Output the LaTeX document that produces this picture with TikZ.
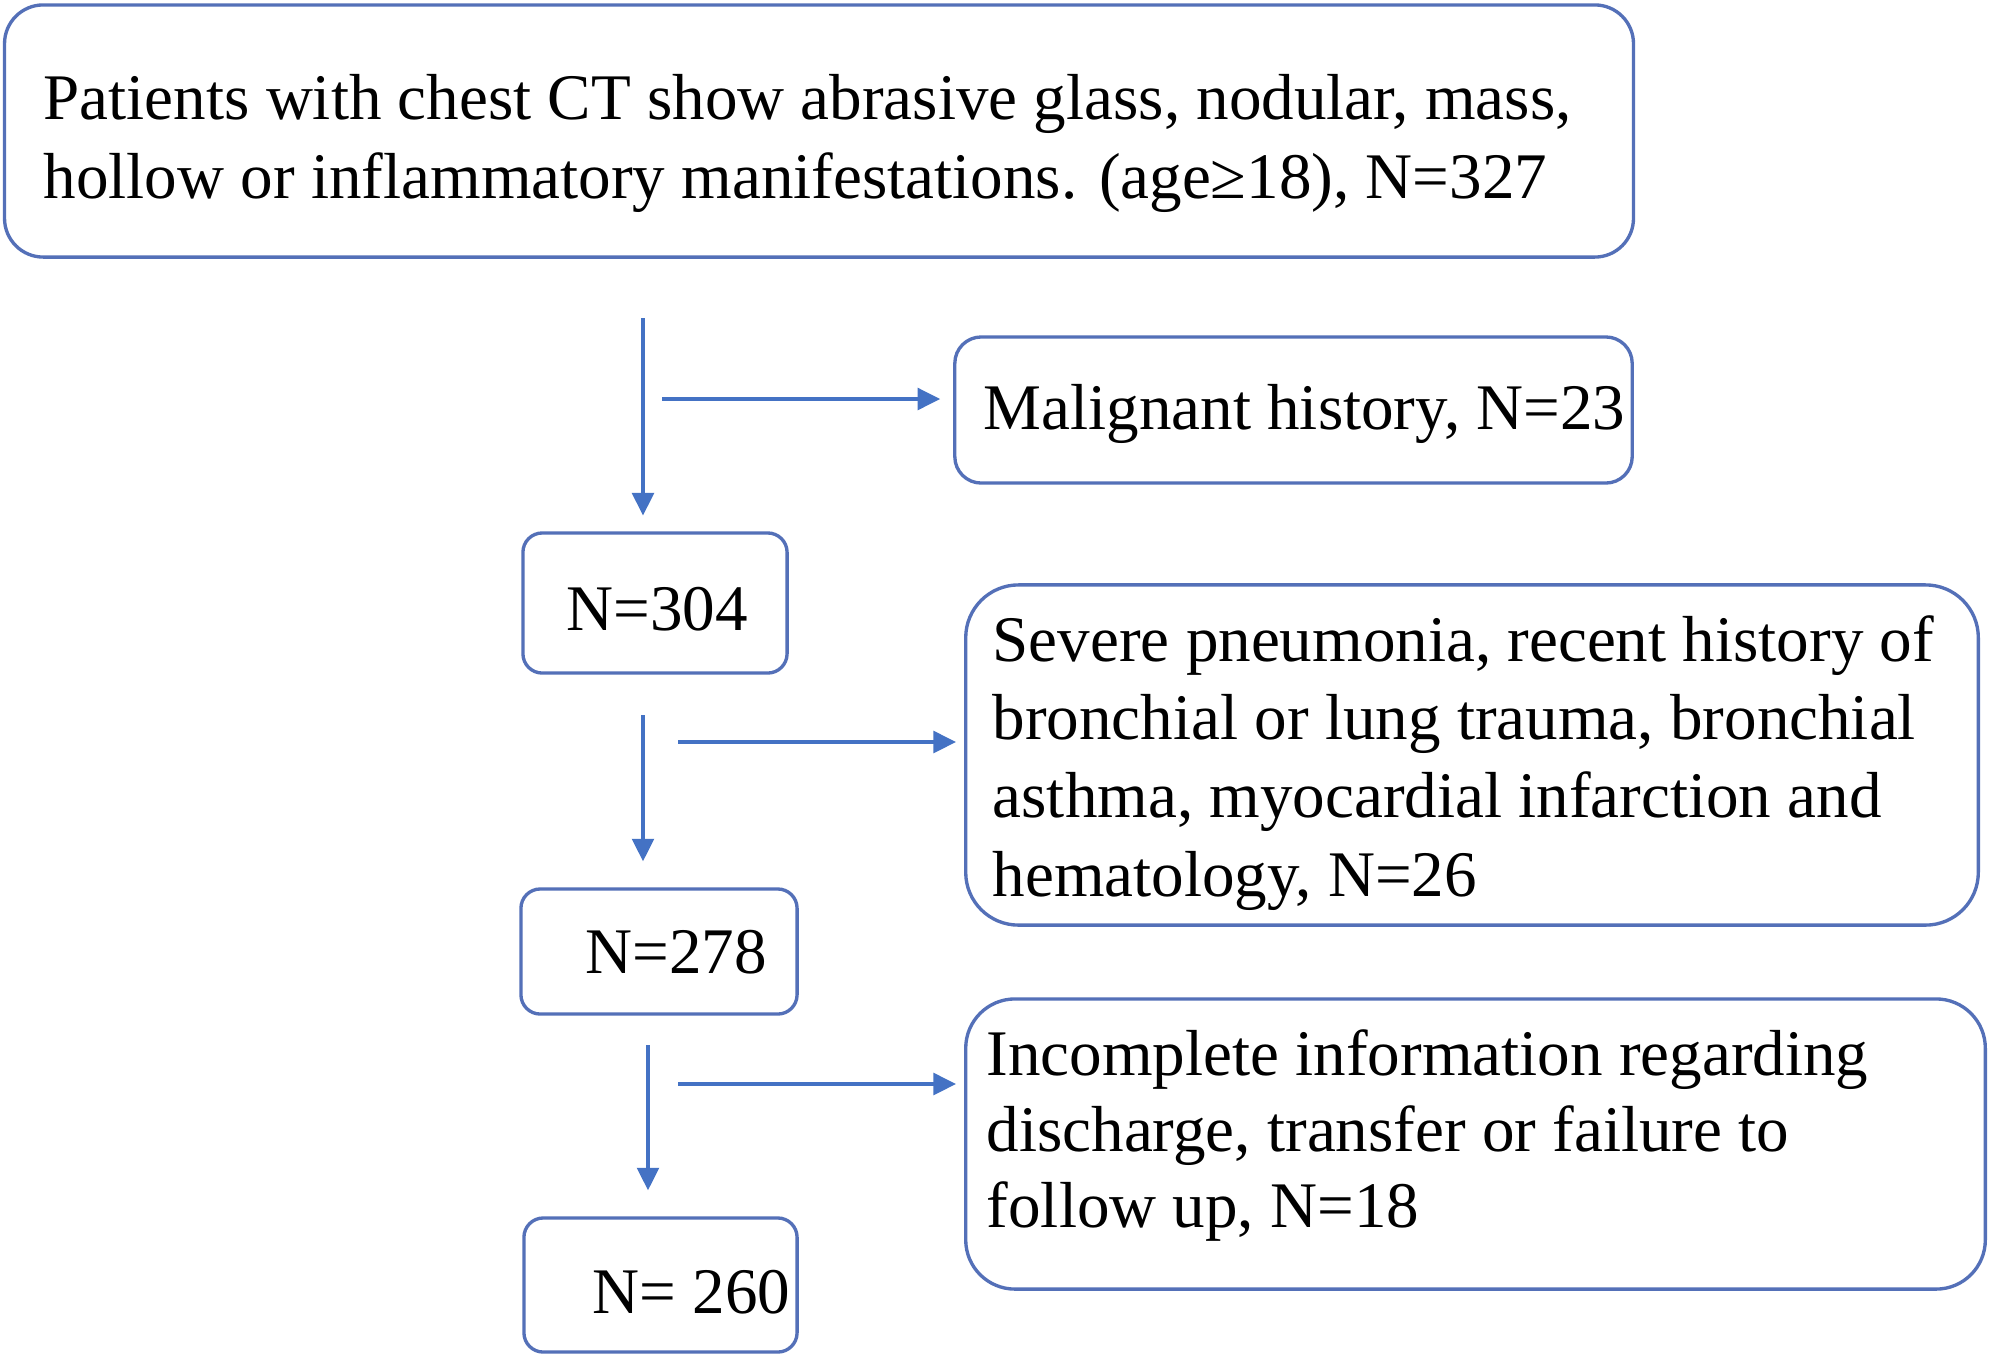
\documentclass[tikz,border=0pt]{standalone}
\usepackage{fontspec}
\setmainfont{Liberation Serif}
\usetikzlibrary{arrows.meta}
\definecolor{boxblue}{RGB}{84,112,184}
\definecolor{arrblue}{RGB}{68,114,196}
\begin{document}
\begin{tikzpicture}[x=0.01cm,y=-0.01cm,
  box/.style={draw=boxblue, line width=0.95pt, inner sep=0pt, fill=white},
  txt/.style={font=\fontsize{18.5}{22.2}\selectfont, align=left, inner sep=0pt, anchor=base west},
  arr/.style={draw=arrblue, line width=0.9pt, -{Triangle[length=6.4pt,width=6.2pt]}}]
\useasboundingbox[fill=white] (0,0) rectangle (1995,1360);
% boxes
\node[box, rounded corners=11pt, minimum width=16.28cm, minimum height=2.52cm] (top) at (819,131) {};
\node[box, rounded corners=7.5pt, minimum width=6.77cm, minimum height=1.46cm] (mal) at (1293.5,410) {};
\node[box, rounded corners=5.5pt, minimum width=2.64cm, minimum height=1.40cm] (n304) at (655,603) {};
\node[box, rounded corners=15pt, minimum width=10.12cm, minimum height=3.40cm] (sev) at (1472,755) {};
\node[box, rounded corners=5.5pt, minimum width=2.76cm, minimum height=1.25cm] (n278) at (659,951.5) {};
\node[box, rounded corners=14pt, minimum width=10.19cm, minimum height=2.90cm] (inc) at (1475.5,1144) {};
\node[box, rounded corners=5.5pt, minimum width=2.73cm, minimum height=1.34cm] (n260) at (660.5,1285) {};
% texts (anchored at the baseline of the last line)
\node[txt] (ttop) at (43,198) {Patients with chest CT show abrasive glass, nodular, mass,\\hollow or inflammatory manifestations. (age≥18), N=327};
\node[txt] (tmal) at (983,429) {Malignant history, N=23};
\node[txt] (t304) at (566,630) {N=304};
\node[txt] (tsev) at (992,896) {Severe pneumonia, recent history of\\bronchial or lung trauma, bronchial\\asthma, myocardial infarction and\\hematology, N=26};
\node[txt] (t278) at (585,973) {N=278};
\node[txt, font=\fontsize{18.5}{21.6}\selectfont] (tinc) at (986,1227) {Incomplete information regarding\\discharge, transfer or failure to\\follow up, N=18};
\node[txt] (t260) at (592,1313) {N=\ 260};
% connectors
\coordinate (v1) at (643,318);
\coordinate (h1) at (662,399);
\coordinate (v2) at (643,715);
\coordinate (h2) at (678,742);
\coordinate (v3) at (648,1045);
\coordinate (h3) at (678,1084);
\draw[arr, shorten >=4.5pt] (v1) -- (v1 |- n304.north);
\draw[arr, shorten >=3.7pt] (h1) -- (h1 -| mal.west);
\draw[arr, shorten >=7.4pt] (v2) -- (v2 |- n278.north);
\draw[arr, shorten >=2.3pt] (h2) -- (h2 -| sev.west);
\draw[arr, shorten >=7.4pt] (v3) -- (v3 |- n260.north);
\draw[arr, shorten >=2.3pt] (h3) -- (h3 -| inc.west);
\end{tikzpicture}
\end{document}
